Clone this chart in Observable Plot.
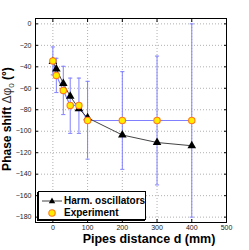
<!DOCTYPE html>
<html>
<head>
<meta charset="utf-8">
<script src="https://cdn.jsdelivr.net/npm/d3@7"></script>
<script src="https://cdn.jsdelivr.net/npm/@observablehq/plot@0.6"></script>
<style>
  html, body { margin: 0; padding: 0; background: #fff; }
  #wrap { position: relative; width: 249px; height: 250px; font-family: "Liberation Sans", Arial, sans-serif; }
  #legend { position: absolute; left: 38px; top: 191px; width: 106px; height: 27px; background: #fff;
    border: 1px solid #000; box-shadow: -1px 1px 0 #000; font-weight: bold; font-size: 10px; }
  .row { position: absolute; left: 0; height: 12px; line-height: 12px; white-space: nowrap; }
  .row svg { position: absolute; left: 2px; top: 0; }
  .row span { position: absolute; left: 25px; top: 0; }
</style>
</head>
<body>
<div id="wrap"></div>
<script>
const dist = [0, 10, 30, 50, 75, 100, 200, 300, 400];
const harmonic = [-35, -42, -55.5, -67.5, -79, -87.5, -103.5, -110.5, -113.5];
const experiment = [-34.5, -48, -62, -76, -76, -90, -90, -90, -90];
const errLow = [-47.5, -64, -84.5, -102, -102, -126, -135.5, -150, -180];
const errHigh = [-21.5, -32, -39.5, -50.5, -50.5, -53.5, -44.5, -30, 0];
const xTicks = [0, 100, 200, 300, 400, 500];
const yTicks = [0, -20, -40, -60, -80, -100, -120, -140, -160, -180];
const seriesNames = ["Harm. oscillators", "Experiment"];

const rows = dist.map((d, i) => ({x: d, h: harmonic[i], e: experiment[i], lo: errLow[i], hi: errHigh[i]}));

const blue = "#8080ff";
const chart = Plot.plot({
  width: 249, height: 250,
  marginLeft: 35, marginRight: 23, marginTop: 18, marginBottom: 28,
  style: {fontFamily: "Liberation Sans, Arial, sans-serif", fontSize: "7px", color: "#222", background: "#fff"},
  x: {domain: [-50, 500], ticks: xTicks},
  y: {domain: [-185, 5], ticks: yTicks},
  marks: [
    Plot.gridX(xTicks, {stroke: "#b0b0b0", strokeOpacity: 1, strokeDasharray: "1,2"}),
    Plot.gridY(yTicks, {stroke: "#b0b0b0", strokeOpacity: 1, strokeDasharray: "1,2"}),
    Plot.axisX(xTicks, {anchor: "bottom", tickSize: -3, tickPadding: 6, label: null, stroke: "#000"}),
    Plot.axisX(xTicks, {anchor: "top", tickSize: -3, tickFormat: () => "", label: null, stroke: "#000"}),
    Plot.axisY(yTicks, {anchor: "left", tickSize: -3, tickPadding: 7, label: null, stroke: "#000"}),
    Plot.axisY(yTicks, {anchor: "right", tickSize: -3, tickFormat: () => "", label: null, stroke: "#000"}),
    Plot.ruleX(rows, {x: "x", y1: "lo", y2: "hi", stroke: blue, strokeWidth: 1}),
    Plot.link(rows, {x1: d => d.x - 6, x2: d => d.x + 6, y1: "lo", y2: "lo", stroke: blue}),
    Plot.link(rows, {x1: d => d.x - 6, x2: d => d.x + 6, y1: "hi", y2: "hi", stroke: blue}),
    Plot.line(rows, {x: "x", y: "e", stroke: blue, strokeWidth: 1.2}),
    Plot.line(rows, {x: "x", y: "h", stroke: "#444", strokeWidth: 1}),
    Plot.dot(rows, {x: "x", y: "h", symbol: "triangle", r: 3.2, fill: "#000", stroke: "none"}),
    Plot.dot(rows, {x: "x", y: "e", r: 3.2, fill: "#ffee00", stroke: "#ff7a1a", strokeWidth: 1.1}),
    Plot.frame({stroke: "#000"})
  ]
});

const wrap = document.getElementById("wrap");
wrap.appendChild(chart);

const svg = d3.select(chart);
svg.append("text")
  .attr("x", 149).attr("y", 243)
  .attr("text-anchor", "middle")
  .style("font-size", "12.5px").style("font-weight", "bold").style("fill", "#000")
  .text("Pipes distance d (mm)");
const yl = svg.append("text")
  .attr("transform", "translate(11,119) rotate(-90)")
  .attr("text-anchor", "middle")
  .style("font-size", "12px").style("fill", "#000");
yl.append("tspan").style("font-weight", "bold").text("Phase shift ");
yl.append("tspan").style("font-weight", "normal").style("fill", "#333").text("Δφ");
yl.append("tspan").style("font-weight", "normal").style("font-size", "8px").style("fill", "#333").attr("dy", 3).text("0");
yl.append("tspan").style("font-weight", "normal").attr("dy", -3).text(" ");
yl.append("tspan").style("font-weight", "bold").text("(°)");

// Legend
const leg = document.createElement("div");
leg.id = "legend";
leg.innerHTML = `
  <div class="row" style="top:3px">
    <svg width="22" height="12"><line x1="1" y1="6" x2="21" y2="6" stroke="#444" stroke-width="1"/>
    <path d="M11,2.6 L14.2,8.2 L7.8,8.2 Z" fill="#000"/></svg>
    <span>${seriesNames[0]}</span></div>
  <div class="row" style="top:15px">
    <svg width="22" height="12"><circle cx="11" cy="6" r="3.2" fill="#ffee00" stroke="#ff7a1a" stroke-width="1.1"/></svg>
    <span>${seriesNames[1]}</span></div>`;
wrap.appendChild(leg);
</script>
</body>
</html>
